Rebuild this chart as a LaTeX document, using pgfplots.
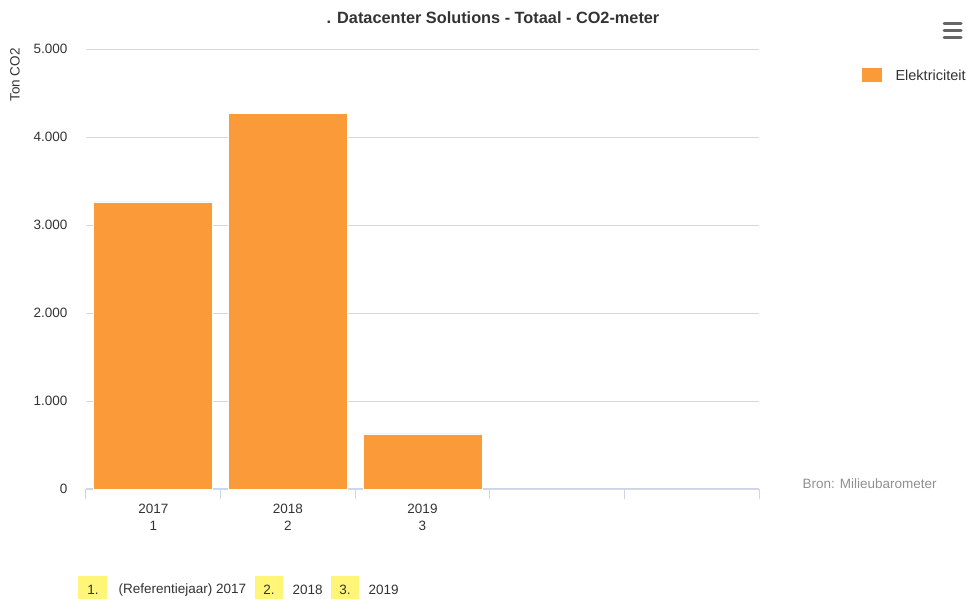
\documentclass[border=0pt]{standalone}
\usepackage{pgfplots}
\pgfplotsset{compat=1.18}
\usepackage{fontspec}
\setmainfont{Liberation Sans}
\definecolor{barorange}{RGB}{250,154,56}
\definecolor{txt}{RGB}{51,51,51}
\definecolor{gridc}{RGB}{216,216,216}
\definecolor{axisc}{RGB}{204,214,235}
\definecolor{bron}{RGB}{144,144,144}
\definecolor{yel}{RGB}{255,245,120}
\begin{document}
\begin{tikzpicture}[x=1pt,y=1pt]
\begin{axis}[
  at={(0,0)}, anchor=south west,
  scale only axis, width=673pt, height=440pt,
  xmin=-0.5, xmax=4.5, ymin=0, ymax=5000,
  axis x line*=bottom, axis y line*=left,
  x axis line style={draw=axisc, line width=1pt},
  y axis line style={draw=none},
  ytick={0,1000,2000,3000,4000,5000},
  yticklabels={0,1.000,2.000,3.000,4.000,5.000},
  ytick style={draw=none},
  ymajorgrids, grid style={draw=gridc, line width=0.8pt},
  xtick={-0.5,0.5,1.5,2.5,3.5,4.5},
  xticklabels={},
  xtick style={draw=axisc, line width=1pt},
  major tick length=10pt, tick align=outside,
  extra x ticks={0,1,2},
  extra x tick labels={{2017\\1},{2018\\2},{2019\\3}},
  extra x tick style={major tick length=0pt, tick style={draw=none},
    xticklabel style={align=center, font=\fontsize{13.5}{17}\selectfont, text=txt, yshift=-12pt}},
  yticklabel style={font=\fontsize{13.5}{15}\selectfont, text=txt, xshift=-5pt},
  /pgf/number format/assume math mode=true,
  clip=false,
]
\addplot[ybar, bar width=119pt, fill=barorange, draw=white, line width=0.8pt] coordinates {(0,3262) (1,4265) (2,625)};
\end{axis}
% bounding box: image (0..967, 0..599), axis lower-left at image (86,489)
\useasboundingbox (-86,-110) rectangle (881,489);
% title
\node[font=\fontsize{16.3}{18}\selectfont\bfseries, text=txt] at (407,471) {. Datacenter Solutions - Totaal - CO2-meter};
% y label
\node[rotate=90, font=\fontsize{13.5}{15}\selectfont, text=txt] at (-71,414) {Ton CO2};
% legend
\fill[barorange] (776,407) rectangle (796,421);
\node[anchor=west, font=\fontsize{14.5}{16}\selectfont, text=txt] at (806,414) {Elektriciteit};
% menu icon
\foreach \yy in {465,458,451} {\draw[line width=3pt, line cap=round, draw=black!60] (858,\yy) -- (875,\yy);}
% source
\node[anchor=west, font=\fontsize{13.5}{15}\selectfont, text=bron] at (713,5) {Bron: Milieubarometer};
% footnotes
\fill[yel] (-8,-87) rectangle (21,-111);
\node[font=\fontsize{13.5}{15}\selectfont, text=txt] at (7,-101) {1.};
\node[anchor=west, font=\fontsize{13.5}{15}\selectfont, text=txt] at (29,-101) {(Referentiejaar) 2017};
\fill[yel] (169,-87) rectangle (197,-111);
\node[font=\fontsize{13.5}{15}\selectfont, text=txt] at (183,-101) {2.};
\node[anchor=west, font=\fontsize{13.5}{15}\selectfont, text=txt] at (203,-101) {2018};
\fill[yel] (245,-87) rectangle (273,-111);
\node[font=\fontsize{13.5}{15}\selectfont, text=txt] at (259,-101) {3.};
\node[anchor=west, font=\fontsize{13.5}{15}\selectfont, text=txt] at (279,-101) {2019};
\end{tikzpicture}
\end{document}
